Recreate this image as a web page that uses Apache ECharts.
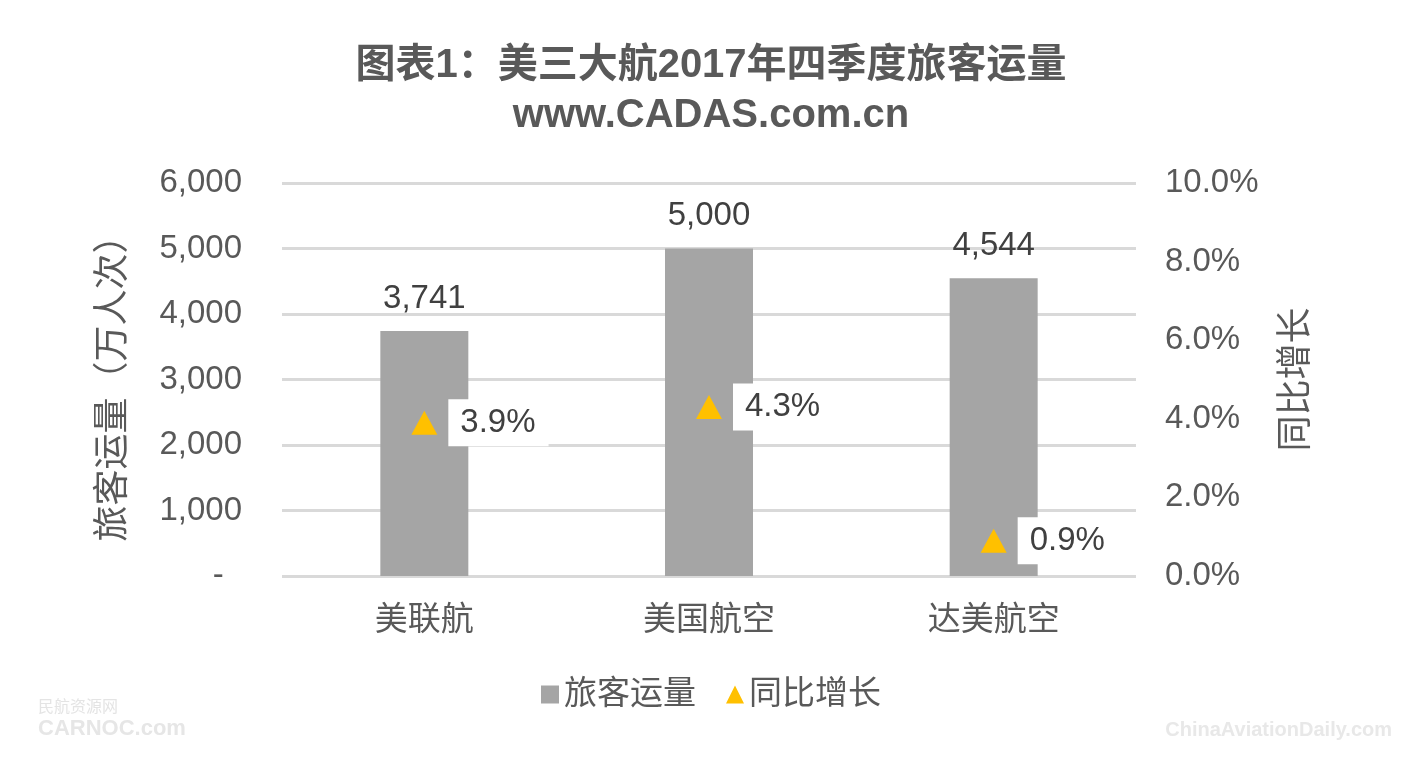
<!DOCTYPE html>
<html><head><meta charset="utf-8">
<script src="https://cdn.jsdelivr.net/npm/echarts@6/dist/echarts.min.js"></script>
<style>html,body{margin:0;padding:0;background:#fff}#c{width:1422px;height:760px}</style>
</head><body><div id="c"></div>
<script>
var categories = ['美联航', '美国航空', '达美航空'];
var passengers = [3741, 5000, 4544];
var growth = [3.9, 4.3, 0.9];
var leftTicks = [0, 1000, 2000, 3000, 4000, 5000, 6000];
var rightTicks = [0, 2, 4, 6, 8, 10];

var FONT = '"Liberation Sans", Arial, "Noto Sans CJK SC", sans-serif';
var GREY = '#595959';
var chart = echarts.init(document.getElementById('c'));
chart.setOption({
  backgroundColor: '#fff',
  textStyle: {fontFamily: FONT},
  title: {
    text: '图表1：美三大航2017年四季度旅客运量\nwww.CADAS.com.cn',
    left: 'center', top: 36,
    textStyle: {fontFamily: FONT, fontSize: 40, fontWeight: 'bold', color: GREY, lineHeight: 50}
  },
  legend: {
    bottom: 44, left: 'center',
    itemWidth: 18, itemHeight: 18, itemGap: 30,
    textStyle: {fontFamily: FONT, fontSize: 33, color: GREY},
    data: [{name: '旅客运量', icon: 'rect'}, {name: '同比增长', icon: 'triangle'}]
  },
  grid: {left: 282, right: 286, top: 183, bottom: 184},
  xAxis: {
    type: 'category', data: categories,
    axisLine: {show: false}, axisTick: {show: false},
    axisLabel: {fontSize: 33, color: GREY, margin: 28, fontFamily: FONT}
  },
  yAxis: [{
    type: 'value', min: leftTicks[0], max: leftTicks[leftTicks.length - 1], interval: 1000,
    name: '旅客运量（万人次）', nameLocation: 'middle', nameGap: 150, nameRotate: 90,
    nameTextStyle: {fontSize: 36, color: GREY, fontFamily: FONT},
    axisLine: {show: false}, axisTick: {show: false},
    splitLine: {lineStyle: {color: '#D9D9D9', width: 3}},
    axisLabel: {fontSize: 33, color: GREY, margin: 40, fontFamily: FONT,
      formatter: function (v) { return v === 0 ? '-  ' : v.toLocaleString('en-US'); }}
  }, {
    type: 'value', min: rightTicks[0], max: rightTicks[rightTicks.length - 1], interval: 2,
    name: '同比增长', nameLocation: 'middle', nameGap: 143, nameRotate: 90,
    nameTextStyle: {fontSize: 36, color: GREY, fontFamily: FONT},
    axisLine: {show: false}, axisTick: {show: false}, splitLine: {show: false},
    axisLabel: {fontSize: 33, color: GREY, margin: 29, fontFamily: FONT,
      formatter: function (v) { return v.toFixed(1) + '%'; }}
  }],
  series: [{
    name: '旅客运量', type: 'bar', data: passengers, barWidth: 88,
    itemStyle: {color: '#A5A5A5'},
    label: {show: true, position: 'top', distance: 16, fontSize: 33, color: '#404040', fontFamily: FONT,
      formatter: function (p) { return p.value.toLocaleString('en-US'); }}
  }, {
    name: '同比增长', type: 'scatter', yAxisIndex: 1, data: growth,
    symbol: 'triangle', symbolSize: [26, 24],
    itemStyle: {color: '#FFC000', opacity: 1},
    label: {show: true, position: 'right', distance: 11, fontSize: 33, color: '#404040', fontFamily: FONT,
      opacity: 1, backgroundColor: '#ffffff', padding: [7, 13, 7, 12],
      formatter: function (p) { return p.value.toFixed(1) + '%'; }}
  }],
  graphic: [
    {type: 'text', left: 38, top: 700, style: {text: '民航资源网', fontSize: 16, fill: '#e4e4e4', fontFamily: FONT}},
    {type: 'text', left: 38, top: 718, style: {text: 'CARNOC.com', fontSize: 22, fontWeight: 'bold', fill: '#e6e6e6', fontFamily: FONT}},
    {type: 'text', right: 30, top: 720, style: {text: 'ChinaAviationDaily.com', fontSize: 20, fontWeight: 'bold', fill: '#e8e8e8', fontFamily: FONT}}
  ]
});
</script></body></html>
